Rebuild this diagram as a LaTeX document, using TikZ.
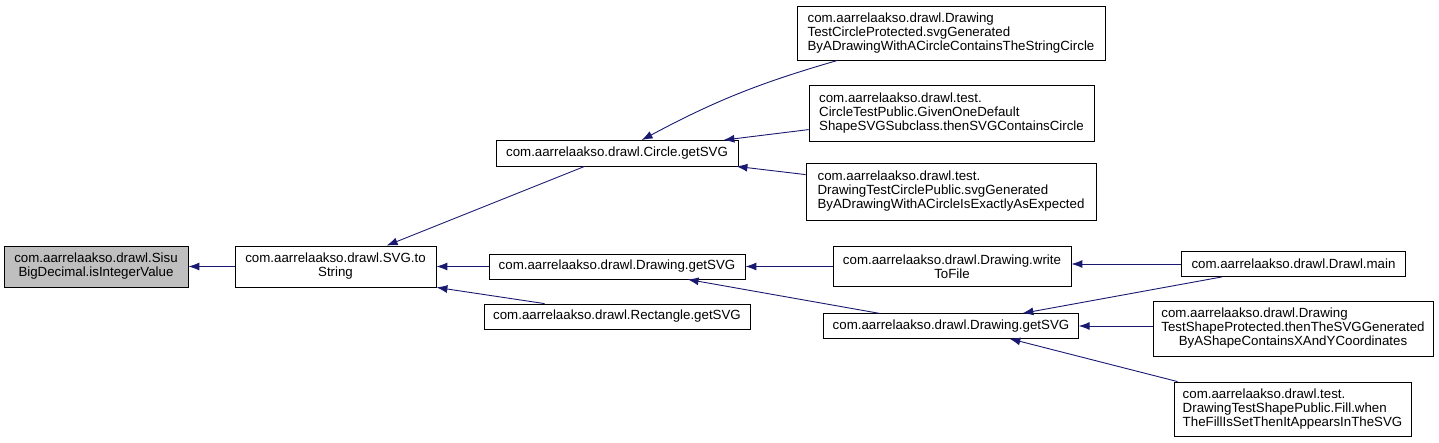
\documentclass[tikz,border=0pt]{standalone}
\usepackage{fontspec}
\setmainfont{Liberation Sans}
\usetikzlibrary{arrows.meta,calc}
\definecolor{midnightblue}{HTML}{191970}
\definecolor{grayfill}{HTML}{BFBFBF}
\begin{document}
\begin{tikzpicture}[x=1pt,y=-1pt,
 box/.style={draw=black, line width=0.8pt, fill=white, inner sep=0pt, font=\fontsize{13.3}{14}\selectfont, text=black},
 lbox/.style={box, align=left},
 cbox/.style={box, align=center},
 edge/.style={draw=midnightblue, line width=0.9pt, -{Latex[length=11pt,width=8pt]}}
]
\useasboundingbox (0,0) rectangle (1439,443);

\node[cbox, fill=grayfill, minimum width=184pt, minimum height=41pt] (sisu) at (96,266.5) {com.aarrelaakso.drawl.Sisu\\BigDecimal.isIntegerValue};
\node[cbox, minimum width=201pt, minimum height=41pt] (ts) at (335.5,266.5) {com.aarrelaakso.drawl.SVG.to\\String};
\node[cbox, minimum width=242pt, minimum height=25.5pt] (circ) at (617,153.25) {com.aarrelaakso.drawl.Circle.getSVG};
\node[cbox, minimum width=256pt, minimum height=25pt] (d1) at (617,266.5) {com.aarrelaakso.drawl.Drawing.getSVG};
\node[cbox, minimum width=266pt, minimum height=25pt] (rect) at (617,316.5) {com.aarrelaakso.drawl.Rectangle.getSVG};
\node[lbox, minimum width=308pt, minimum height=54pt] (dtcprot) at (951,33) {com.aarrelaakso.drawl.Drawing\\TestCircleProtected.svgGenerated\\ByADrawingWithACircleContainsTheStringCircle};
\node[lbox, minimum width=285pt, minimum height=56pt] (ctp) at (951.5,113) {com.aarrelaakso.drawl.test.\\CircleTestPublic.GivenOneDefault\\ShapeSVGSubclass.thenSVGContainsCircle};
\node[lbox, minimum width=290pt, minimum height=57pt] (dtcpub) at (951,191.5) {com.aarrelaakso.drawl.test.\\DrawingTestCirclePublic.svgGenerated\\ByADrawingWithACircleIsExactlyAsExpected};
\node[cbox, minimum width=238pt, minimum height=40pt] (wtf) at (952,266.5) {com.aarrelaakso.drawl.Drawing.write\\ToFile};
\node[cbox, minimum width=254.5pt, minimum height=24.5pt] (d2) at (951,326) {com.aarrelaakso.drawl.Drawing.getSVG};
\node[cbox, minimum width=224pt, minimum height=25pt] (main) at (1293.5,264) {com.aarrelaakso.drawl.Drawl.main};
\node[box, minimum width=280pt, minimum height=55pt] (dtsprot) at (1293,329) {\begin{tabular}{@{}l@{}}com.aarrelaakso.drawl.Drawing\\TestShapeProtected.thenTheSVGGenerated\\\multicolumn{1}{@{}c@{}}{ByAShapeContainsXAndYCoordinates}\end{tabular}};
\node[lbox, minimum width=237pt, minimum height=54pt] (dtspub) at (1292.5,409) {com.aarrelaakso.drawl.test.\\DrawingTestShapePublic.Fill.when\\TheFillIsSetThenItAppearsInTheSVG};

\draw[edge] (ts.west) -- (sisu.east);
\draw[edge] ($(circ.south west)+(89,0)$) -- ($(ts.north west)+(152,0)$);
\draw[edge] (d1.west) -- (ts.east);
\draw[edge] ($(rect.north west)+(61,0)$) -- (ts.south east);
\draw[edge] ($(dtcprot.south west)+(41,0)$) to[bend right=6] ($(circ.north west)+(146,0)$);
\draw[edge] ($(ctp.north west)+(0,45)$) -- ($(circ.north east)+(-15,0)$);
\draw[edge] ($(dtcpub.north west)+(0,12)$) -- ($(circ.south east)+(-2,0)$);
\draw[edge] (wtf.west) -- (d1.east);
\draw[edge] ($(d2.north west)+(56,0)$) -- ($(d1.south west)+(199,0)$);
\draw[edge] (main.west) -- (main.west -| wtf.east);
\draw[edge] ($(main.south west)+(41,0)$) -- ($(d2.north west)+(199,0)$);
\draw[edge] (dtsprot.west |- d2.east) -- (d2.east);
\draw[edge] ($(dtspub.north west)+(4,0)$) -- ($(d2.south west)+(186,0)$);
\end{tikzpicture}
\end{document}
